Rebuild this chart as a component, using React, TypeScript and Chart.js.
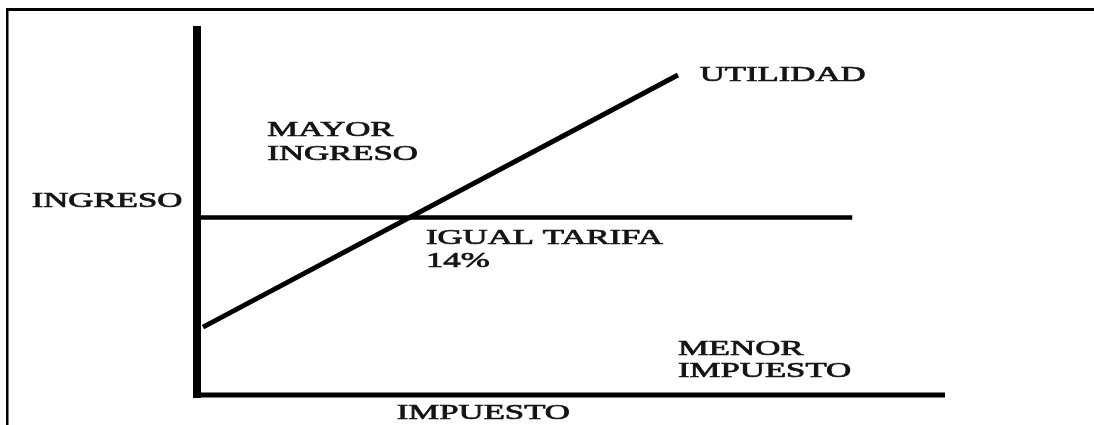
import React, { useEffect, useRef } from "react";
import { Chart, registerables } from "chart.js";

Chart.register(...registerables);

// Axis lines (data coordinates)
const yAxisX = [0, 0];
const yAxisY = [-0.8, 100];
const xAxisX = [-0.5, 100];
const xAxisY = [0, 0];

// Horizontal "INGRESO" level line
const ingresoX = [0.4, 87.6];
const ingresoY = [48.1, 48.1];

// Diagonal "UTILIDAD" line
const utilidadX = [0.8, 64.3];
const utilidadY = [18.4, 86.7];

// Text labels (anchored at left baseline, data coordinates)
const labelTexts = [
  "INGRESO",
  "MAYOR",
  "INGRESO",
  "UTILIDAD",
  "IGUAL TARIFA",
  "14%",
  "MENOR",
  "IMPUESTO",
  "IMPUESTO",
];
const labelX = [-22.1, 9.4, 9.4, 67.2, 30.6, 30.6, 64.3, 64.3, 26.7];
const labelY = [50.9, 70.2, 63.7, 85.1, 40.9, 34.7, 10.8, 4.9, -6.5];

const toPoints = (xs: number[], ys: number[]) => xs.map((x, i) => ({ x, y: ys[i] }));

export default function App() {
  const ref = useRef<HTMLCanvasElement | null>(null);

  useEffect(() => {
    if (!ref.current) return;

    const framePlugin = {
      id: "frame",
      beforeDraw(chart: any) {
        const ctx = chart.ctx;
        ctx.save();
        ctx.fillStyle = "#ffffff";
        ctx.fillRect(0, 0, chart.width, chart.height);
        ctx.fillStyle = "#000000";
        ctx.fillRect(6, 8, chart.width - 6, 3);
        ctx.fillRect(6, 8, 2.5, chart.height - 8);
        ctx.restore();
      },
    };

    const labelPlugin = {
      id: "labels",
      afterDatasetsDraw(chart: any) {
        const ctx = chart.ctx;
        const sx = chart.scales.x;
        const sy = chart.scales.y;
        ctx.save();
        ctx.fillStyle = "#141414";
        ctx.strokeStyle = "#141414";
        ctx.lineWidth = 0.7;
        ctx.font = '22px "Liberation Serif", "Times New Roman", serif';
        ctx.textBaseline = "alphabetic";
        ctx.textAlign = "left";
        labelTexts.forEach((t, i) => {
          const px = sx.getPixelForValue(labelX[i]);
          const py = sy.getPixelForValue(labelY[i]);
          ctx.save();
          ctx.translate(px, py);
          ctx.scale(1.58, 1);
          ctx.fillText(t, 0, 0);
          ctx.strokeText(t, 0, 0);
          ctx.restore();
        });
        ctx.restore();
      },
    };

    const line = (xs: number[], ys: number[], w: number) => ({
      data: toPoints(xs, ys),
      showLine: true,
      borderColor: "#000000",
      backgroundColor: "#000000",
      borderWidth: w,
      pointRadius: 0,
      borderCapStyle: "butt" as const,
      clip: false as any,
    });

    const chart = new Chart(ref.current, {
      type: "scatter",
      data: {
        datasets: [
          line(yAxisX, yAxisY, 8),
          line(xAxisX, xAxisY, 5),
          line(ingresoX, ingresoY, 4.5),
          line(utilidadX, utilidadY, 5),
        ],
      },
      options: {
        responsive: false,
        animation: false,
        events: [],
        layout: { padding: { left: 197, right: 149, top: 26, bottom: 30 } },
        scales: {
          x: { type: "linear", min: 0, max: 100, display: false },
          y: { type: "linear", min: 0, max: 100, display: false },
        },
        plugins: {
          legend: { display: false },
          tooltip: { enabled: false },
          title: { display: false },
        },
      },
      plugins: [framePlugin, labelPlugin],
    });

    return () => chart.destroy();
  }, []);

  return (
    <div style={{ position: "fixed", left: 0, top: 0, width: 1094, height: 425, background: "#fff" }}>
      <canvas ref={ref} width={1094} height={425} style={{ display: "block" }} />
    </div>
  );
}
